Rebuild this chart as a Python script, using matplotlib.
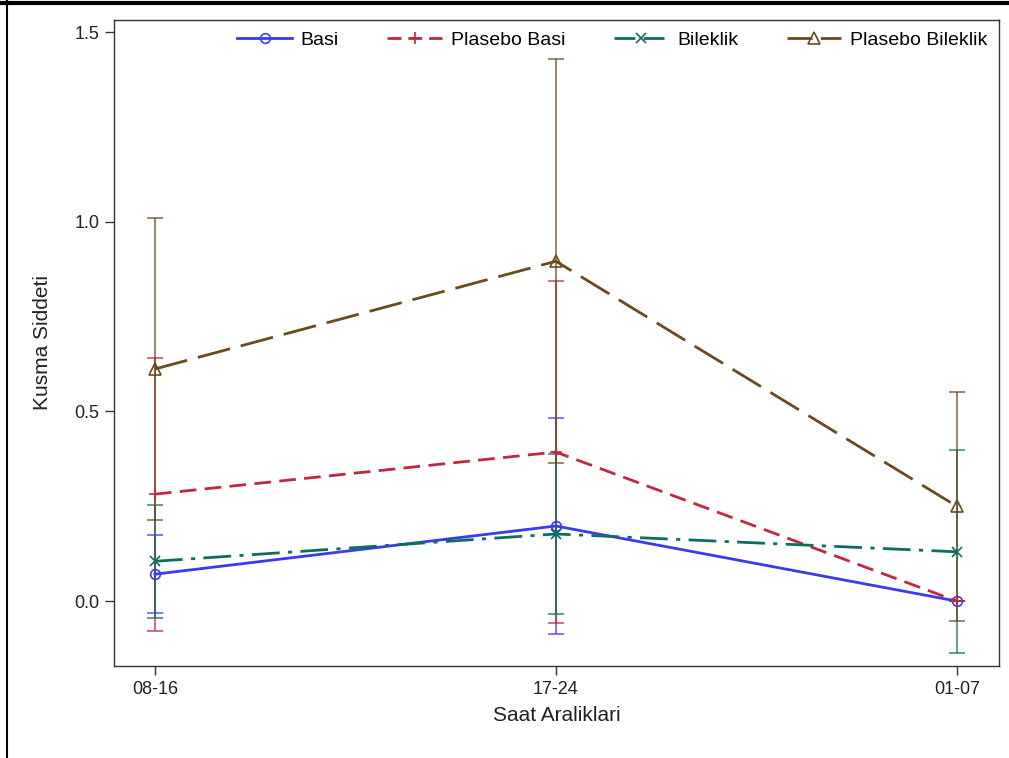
import matplotlib
matplotlib.use("Agg")
import matplotlib.pyplot as plt
from matplotlib.lines import Line2D
import numpy as np

plt.rcParams['font.family'] = ['Liberation Sans', 'DejaVu Sans']

categories = ["08-16", "17-24", "01-07"]
series_names = ["Basi", "Plasebo Basi", "Bileklik", "Plasebo Bileklik"]
basi_mean = [0.071, 0.198, 0.0]
basi_err = [0.102, 0.286, 0.0]
pbasi_mean = [0.282, 0.393, 0.0]
pbasi_err = [0.360, 0.450, 0.0]
bilek_mean = [0.105, 0.177, 0.130]
bilek_err = [0.149, 0.210, 0.268]
pbilek_mean = [0.612, 0.896, 0.250]
pbilek_err = [0.398, 0.532, 0.302]

means = [basi_mean, pbasi_mean, bilek_mean, pbilek_mean]
errs = [basi_err, pbasi_err, bilek_err, pbilek_err]
colors = ["#3a3aee", "#c0283c", "#0b6e60", "#6b4a1c"]
markers = ["o", "+", "x", "^"]
msizes = [7, 9, 7, 8]
dashes = [(None, None), (6, 3), (10, 3, 1.5, 3), (12, 4)]
legend_dashes = [(None, None), (5, 2.5), (7.5, 3), (9, 3)]

fig = plt.figure(figsize=(10.09, 7.58), dpi=100)
ax = fig.add_axes([0.113, 0.1214, 0.877, 0.8522])
x = np.arange(len(categories))

handles = []
for m, e, c, mk, msz, d, ld, name in zip(means, errs, colors, markers, msizes,
                                           dashes, legend_dashes, series_names):
    ax.errorbar(x, m, yerr=e, fmt='none', ecolor=c, elinewidth=1.1, capsize=6,
                capthick=1.1, alpha=0.85, zorder=2)
    ln, = ax.plot(x, m, color=c, lw=2, marker=mk, ms=msz,
                  mfc='none', mec=c, mew=1.2, zorder=3)
    if d[0] is not None:
        ln.set_dashes(d)
    h = Line2D([], [], color=c, lw=2, marker=mk, ms=msz, mfc='none', mec=c, mew=1.2)
    if ld[0] is not None:
        h.set_dashes(ld)
    handles.append(h)

ax.set_xlim(-0.102, 2.105)
ax.set_ylim(-0.171, 1.532)
ax.set_xticks(x)
ax.set_xticklabels(categories)
ax.set_yticks([0.0, 0.5, 1.0, 1.5])
ax.set_yticklabels(["0.0", "0.5", "1.0", "1.5"])
ax.tick_params(labelsize=13, length=6.5, width=1, pad=4, color='#333333', labelcolor='#222222')
for s in ax.spines.values():
    s.set_color('#333333')
    s.set_linewidth(1)
ax.set_xlabel("Saat Araliklari", fontsize=15, color='#222222', labelpad=6)
ax.set_ylabel("Kusma Siddeti", fontsize=15, color='#222222', labelpad=16)

ax.legend(handles=handles, labels=series_names, loc='upper right', ncol=4,
          frameon=False, fontsize=14, handlelength=2.8, columnspacing=2.5,
          handletextpad=0.45, borderaxespad=0.2, bbox_to_anchor=(1.0, 1.0))

fig.add_artist(Line2D([0, 1], [0.9965, 0.9965], transform=fig.transFigure, color='black', lw=3))
fig.add_artist(Line2D([0.0065, 0.0065], [0, 1], transform=fig.transFigure, color='black', lw=1.5))

fig.savefig("out.png", dpi=100)
